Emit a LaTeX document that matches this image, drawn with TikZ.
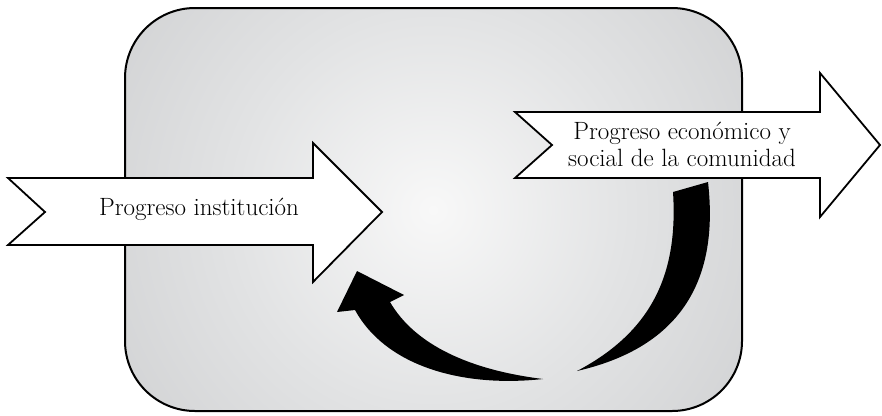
\documentclass[tikz,border=0pt]{standalone}
\usepackage{graphicx}
\definecolor{edgegray}{RGB}{189,190,192}
\definecolor{midgray}{RGB}{226,227,228}
\definecolor{centergray}{RGB}{248,248,248}
\pgfdeclareradialshading{bgshade}{\pgfpoint{0bp}{0bp}}{color(0bp)=(centergray); color(8bp)=(midgray); color(24bp)=(edgegray); color(50bp)=(edgegray)}
\tikzset{
  panel/.style={draw=black, line width=2pt, rounded corners=70pt},
  bigarrow/.style={draw=black, fill=white, line width=1.8pt, line join=miter},
  curlarrow/.style={fill=black, draw=none},
  lbl/.style={inner sep=0pt, anchor=base, font=\fontsize{25}{27}\selectfont}
}
\begin{document}
\begin{tikzpicture}[x=1pt,y=1pt]
\useasboundingbox (0,0) rectangle (882,-415);
% background panel
\begin{scope}
  \clip[rounded corners=70pt] (125,-8) rectangle (742,-411);
  \shade[shading=bgshade] (433,-210) circle (620pt);
\end{scope}
\draw[panel] (125,-8) rectangle (742,-411);
% curved arrows
\fill[curlarrow] (708,-182) .. controls (718,-270) and (690,-345) .. (577,-371)
  .. controls (655,-330) and (678,-270) .. (673,-192) -- cycle;
\fill[curlarrow] (543,-379) .. controls (460,-388) and (385,-365) .. (355,-310)
  -- (337,-312) -- (357,-271) -- (404,-295) -- (390,-302)
  .. controls (415,-345) and (470,-370) .. (543,-379) -- cycle;
% big arrows
\draw[bigarrow] (8,-178) -- (313,-178) -- (313,-143) -- (382,-212) -- (313,-282)
  -- (313,-245) -- (8,-245) -- (45,-212) -- cycle;
\draw[bigarrow] (515,-112) -- (820,-112) -- (820,-73) -- (880,-145) -- (820,-217)
  -- (820,-178) -- (515,-178) -- (552,-145) -- cycle;
% labels
\node[lbl] (t1) at (199,-215) {Progreso institución};
\node[lbl] (t2) at (682,-139) {\begin{tabular}[t]{@{}c@{}}Progreso económico y\\ social de la comunidad\end{tabular}};
\end{tikzpicture}
\end{document}
